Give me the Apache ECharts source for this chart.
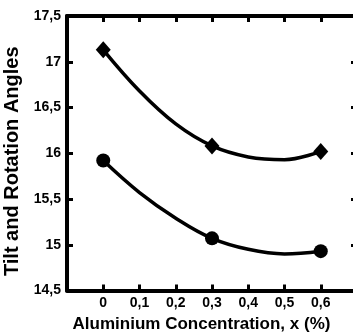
<!DOCTYPE html>
<html>
<head>
<meta charset="utf-8">
<script src="https://cdn.jsdelivr.net/npm/echarts@6/dist/echarts.min.js"></script>
<style>
  html, body { margin: 0; padding: 0; background: #fff; }
  #chart { width: 353px; height: 333px; }
</style>
</head>
<body>
<div id="chart"></div>
<script>
// measured points
const xValues = [0, 0.3, 0.6];
const tiltAngle = [17.13, 16.08, 16.02];
const rotationAngle = [15.92, 15.07, 14.93];

// fitted curves
const fitX = [0, 0.1, 0.2, 0.3, 0.4, 0.5, 0.6];
const tiltFit = [17.13, 16.68, 16.32, 16.08, 15.96, 15.93, 16.02];
const rotationFit = [15.92, 15.57, 15.29, 15.07, 14.95, 14.9, 14.93];

const FONT = "'Liberation Sans', Arial, sans-serif";
const comma = (v) => String(Math.round(v * 10) / 10).replace(".", ",");

const pairs = (xs, ys) => xs.map((x, i) => [x, ys[i]]);

const chart = echarts.init(document.getElementById("chart"));

const frame = { show: true, onZero: false, lineStyle: { color: "#000", width: 4 } };
const ticks = { show: true, inside: true, length: 6, lineStyle: { color: "#000", width: 3 } };

chart.setOption({
  animation: false,
  grid: {
    left: 67,
    top: 16,
    width: 290,
    height: 274.5,
    outerBoundsMode: "none",
  },
  xAxis: [
    {
      type: "value",
      min: -0.1,
      max: 0.7,
      interval: 0.1,
      position: "bottom",
      axisLine: frame,
      axisTick: ticks,
      splitLine: { show: false },
      axisLabel: {
        margin: 6,
        color: "#000",
        fontFamily: FONT,
        fontWeight: "bold",
        fontSize: 14,
        formatter: (v) => (v < -0.01 || v > 0.65 ? "" : comma(v)),
      },
      name: "Aluminium Concentration, x (%)",
      nameLocation: "middle",
      nameGap: 24,
      nameTextStyle: {
        color: "#000",
        fontFamily: FONT,
        fontWeight: "bold",
        fontSize: 17,
        padding: [0, 21, 0, 0],
      },
    },
    {
      type: "value",
      min: -0.1,
      max: 0.7,
      interval: 0.1,
      position: "top",
      axisLine: frame,
      axisTick: ticks,
      axisLabel: { show: false },
      splitLine: { show: false },
    },
  ],
  yAxis: [
    {
      type: "value",
      min: 14.5,
      max: 17.5,
      interval: 0.5,
      position: "left",
      axisLine: frame,
      axisTick: ticks,
      splitLine: { show: false },
      axisLabel: {
        margin: 6,
        color: "#000",
        fontFamily: FONT,
        fontWeight: "bold",
        fontSize: 14,
        formatter: comma,
      },
      name: "Tilt and Rotation Angles",
      nameLocation: "middle",
      nameGap: 34,
      nameRotate: 90,
      nameTextStyle: {
        color: "#000",
        fontFamily: FONT,
        fontWeight: "bold",
        fontSize: 20,
        padding: [0, 16, 0, 0],
      },
    },
    {
      type: "value",
      min: 14.5,
      max: 17.5,
      interval: 0.5,
      position: "right",
      axisLine: frame,
      axisTick: ticks,
      axisLabel: { show: false },
      splitLine: { show: false },
    },
  ],
  series: [
    {
      type: "line",
      data: pairs(fitX, tiltFit),
      smooth: 0.4,
      showSymbol: false,
      lineStyle: { color: "#000", width: 3.5 },
    },
    {
      type: "line",
      data: pairs(fitX, rotationFit),
      smooth: 0.4,
      showSymbol: false,
      lineStyle: { color: "#000", width: 3.5 },
    },
    {
      type: "scatter",
      data: pairs(xValues, tiltAngle),
      symbol: "diamond",
      symbolSize: [15, 17],
      itemStyle: { color: "#000", opacity: 1 },
      z: 5,
    },
    {
      type: "scatter",
      data: pairs(xValues, rotationAngle),
      symbol: "circle",
      symbolSize: 14,
      itemStyle: { color: "#000", opacity: 1 },
      z: 5,
    },
  ],
});
</script>
</body>
</html>
